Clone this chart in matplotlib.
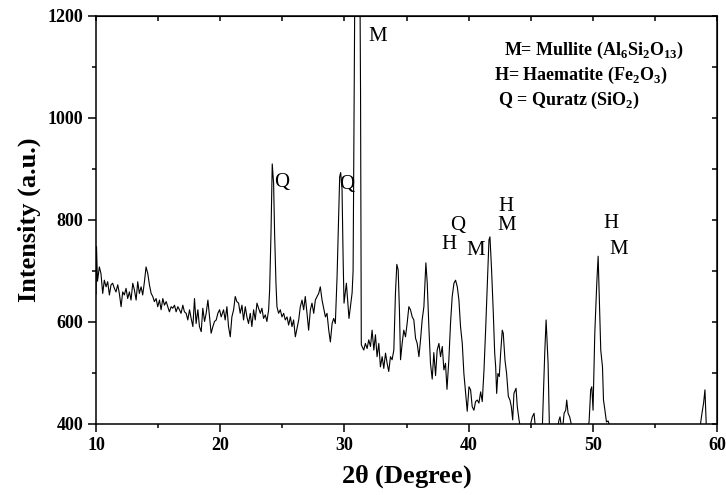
import matplotlib
matplotlib.use("Agg")
from matplotlib import pyplot as plt
from matplotlib.ticker import MultipleLocator

# digitised XRD scan, (2theta, intensity) pairs, read region by region
scan_10_20 = [
    (10.00, 655), (10.04, 748), (10.12, 680), (10.27, 708), (10.40, 695), (10.54, 656),
    (10.67, 682), (10.81, 669), (10.94, 679), (11.08, 653), (11.21, 673), (11.34, 676),
    (11.48, 666), (11.61, 659), (11.75, 673), (11.88, 656), (12.02, 630), (12.15, 659),
    (12.28, 653), (12.42, 666), (12.55, 646), (12.69, 659), (12.82, 643), (12.96, 676),
    (13.09, 663), (13.23, 643), (13.36, 679), (13.49, 656), (13.63, 669), (13.76, 653),
    (13.90, 679), (14.03, 708), (14.17, 695), (14.30, 673), (14.44, 656), (14.57, 650),
    (14.70, 640), (14.84, 646), (14.97, 630), (15.11, 643), (15.24, 624), (15.38, 646),
    (15.51, 633), (15.65, 640), (15.78, 630), (15.91, 620), (16.05, 630), (16.18, 627),
    (16.32, 633), (16.45, 620), (16.59, 630), (16.72, 624), (16.85, 617), (16.99, 633),
    (17.12, 620), (17.26, 617), (17.39, 604), (17.53, 624), (17.66, 607), (17.80, 591),
    (17.93, 646), (18.06, 597), (18.20, 624), (18.33, 591), (18.47, 581), (18.60, 627),
    (18.74, 601), (18.87, 617), (19.01, 643), (19.14, 610), (19.27, 578), (19.41, 591),
    (19.54, 601), (19.68, 604), (19.81, 617), (19.95, 624), (20.08, 610),
]

scan_20_30 = [
    (20.27, 624), (20.40, 604), (20.54, 630), (20.67, 591), (20.81, 571), (20.94, 610),
    (21.08, 624), (21.21, 650), (21.34, 640), (21.48, 637), (21.61, 617), (21.75, 633),
    (21.88, 604), (22.02, 630), (22.15, 610), (22.28, 597), (22.42, 617), (22.55, 591),
    (22.69, 624), (22.82, 604), (22.96, 637), (23.09, 627), (23.23, 617), (23.36, 627),
    (23.49, 607), (23.63, 614), (23.76, 601), (23.90, 624), (23.98, 663), (24.09, 774),
    (24.19, 910), (24.30, 872), (24.38, 774), (24.49, 676), (24.57, 630), (24.70, 617),
    (24.84, 624), (24.97, 610), (25.11, 617), (25.24, 604), (25.38, 610), (25.51, 594),
    (25.65, 610), (25.78, 591), (25.91, 604), (26.05, 571), (26.32, 604), (26.45, 630),
    (26.59, 643), (26.72, 624), (26.85, 650), (26.99, 617), (27.12, 584), (27.26, 624),
    (27.39, 637), (27.53, 617), (27.66, 643), (27.80, 650), (27.93, 656), (28.06, 669),
    (28.20, 643), (28.33, 627), (28.47, 610), (28.60, 617), (28.74, 584), (28.87, 561),
    (29.01, 597), (29.14, 607), (29.27, 597), (29.41, 689), (29.54, 807), (29.62, 885),
    (29.70, 893), (29.81, 860), (29.90, 720), (29.97, 637), (30.16, 676), (30.37, 607),
    (30.62, 657), (30.70, 700), (30.80, 1100), (30.95, 1700), (31.15, 1700), (31.30, 1050),
    (31.36, 556),
]

scan_30_40 = [
    (31.42, 552), (31.56, 545), (31.69, 558), (31.83, 548), (31.96, 565), (32.10, 552),
    (32.23, 584), (32.37, 545), (32.50, 575), (32.63, 532), (32.77, 558), (32.90, 512),
    (33.04, 532), (33.17, 509), (33.31, 539), (33.44, 519), (33.57, 503), (33.71, 532),
    (33.84, 526), (33.98, 545), (34.11, 656), (34.22, 713), (34.33, 702), (34.43, 624),
    (34.52, 526), (34.65, 558), (34.78, 584), (34.92, 571), (35.05, 597), (35.19, 630),
    (35.32, 624), (35.46, 610), (35.59, 604), (35.73, 568), (35.86, 558), (36.00, 532),
    (36.13, 565), (36.26, 604), (36.40, 630), (36.56, 716), (36.67, 676), (36.80, 591),
    (36.93, 519), (37.07, 488), (37.20, 540), (37.34, 495), (37.47, 545), (37.61, 558),
    (37.74, 532), (37.88, 552), (38.01, 506), (38.14, 519), (38.26, 468), (38.41, 526),
    (38.55, 600), (38.68, 650), (38.82, 676), (38.95, 682), (39.09, 669), (39.22, 643),
    (39.35, 591), (39.49, 558), (39.62, 499), (39.76, 460), (39.89, 425), (40.03, 473),
]

scan_40_50 = [
    (40.16, 467), (40.29, 434), (40.43, 427), (40.56, 444), (40.70, 447), (40.83, 441),
    (40.97, 463), (41.10, 444), (41.24, 506), (41.37, 584), (41.50, 669), (41.64, 761),
    (41.72, 767), (41.85, 702), (41.99, 617), (42.10, 539), (42.18, 512), (42.26, 460),
    (42.36, 499), (42.47, 493), (42.58, 539), (42.71, 584), (42.79, 578), (42.93, 525),
    (43.06, 499), (43.20, 454), (43.33, 447), (43.44, 434), (43.55, 408), (43.65, 460),
    (43.82, 470), (43.92, 434), (44.06, 408), (44.19, 390), (44.60, 370), (45.00, 401),
    (45.13, 414), (45.27, 421), (45.35, 400), (45.45, 380), (45.70, 370), (45.94, 395),
    (46.13, 539), (46.24, 604), (46.40, 519), (46.50, 401), (46.60, 380), (47.00, 370),
    (47.28, 408), (47.36, 414), (47.47, 395), (47.61, 401), (47.69, 421), (47.82, 427),
    (47.90, 447), (48.01, 421), (48.14, 414), (48.28, 398), (48.40, 380), (49.00, 370),
    (49.65, 399), (49.70, 404), (49.83, 467), (49.92, 473), (50.02, 427),
]

scan_50_60 = [
    (50.16, 578), (50.32, 676), (50.43, 729), (50.53, 643), (50.64, 545), (50.78, 512),
    (50.86, 447), (50.96, 430), (51.10, 404), (51.23, 406), (51.39, 395), (51.60, 370),
    (58.50, 370), (58.79, 421), (58.92, 441), (59.03, 467), (59.14, 395), (59.30, 370),
    (60.00, 370),
]

# peak labels: (text, 2theta, intensity)
peak_labels = [
    ("Q", 24.92, 874), ("Q", 30.20, 869), ("M", 32.66, 1159),
    ("H", 38.40, 752), ("Q", 39.15, 790), ("M", 40.60, 741),
    ("H", 42.98, 827), ("M", 43.06, 790),
    ("H", 51.45, 794), ("M", 52.10, 743),
]

phase_key = [
    (r"M= Mullite (Al$_{\mathbf{6}}$Si$_{\mathbf{2}}$O$_{\mathbf{13}}$)", 42.82, 1133),
    (r"H= Haematite (Fe$_{\mathbf{2}}$O$_{\mathbf{3}}$)", 42.02, 1084),
    (r"Q = Quratz (SiO$_{\mathbf{2}}$)", 42.34, 1035),
]

plt.rcParams["font.family"] = ["Liberation Serif", "DejaVu Serif"]
plt.rcParams["mathtext.fontset"] = "custom"
plt.rcParams["mathtext.rm"] = "Liberation Serif:bold"
plt.rcParams["mathtext.bf"] = "Liberation Serif:bold"

points = scan_10_20 + scan_20_30 + scan_30_40 + scan_40_50 + scan_50_60
two_theta = [p[0] for p in points]
intensity = [p[1] for p in points]

fig = plt.figure(figsize=(7.26, 4.95), dpi=100)
ax = fig.add_axes([96 / 726, 1 - 424 / 495, (717 - 96) / 726, (424 - 16) / 495])
ax.plot(two_theta, intensity, color="black", linewidth=0.8)

ax.set_xlim(10, 60)
ax.set_ylim(400, 1200)
ax.xaxis.set_major_locator(MultipleLocator(10))
ax.xaxis.set_minor_locator(MultipleLocator(5))
ax.yaxis.set_major_locator(MultipleLocator(200))
ax.yaxis.set_minor_locator(MultipleLocator(100))
ax.tick_params(which="major", direction="out", length=6, width=1.1, labelsize=13, pad=3)
ax.tick_params(which="minor", direction="out", length=3, width=1.1)
for lab in ax.get_xticklabels() + ax.get_yticklabels():
    lab.set_fontweight("bold")
for s in ax.spines.values():
    s.set_linewidth(1.1)

# inward mirror ticks on top and right
top = ax.secondary_xaxis("top")
top.xaxis.set_major_locator(MultipleLocator(5))
top.tick_params(direction="in", length=3.5, width=1.1, labeltop=False)
right = ax.secondary_yaxis("right")
right.yaxis.set_major_locator(MultipleLocator(100))
right.tick_params(direction="in", length=3.5, width=1.1, labelright=False)

ax.set_xlabel(r"2$\mathbf{\theta}$ (Degree)", fontsize=19, fontweight="bold", labelpad=7)
ax.set_ylabel("Intensity (a.u.)", fontsize=19, fontweight="bold", labelpad=5)

for txt, x, y in peak_labels:
    ax.text(x, y, txt, fontsize=15, ha="center", va="center")
for txt, x, y in phase_key:
    ax.text(x, y, txt, fontsize=13, fontweight="bold", ha="left", va="center")

fig.savefig("out.png", dpi=100)
